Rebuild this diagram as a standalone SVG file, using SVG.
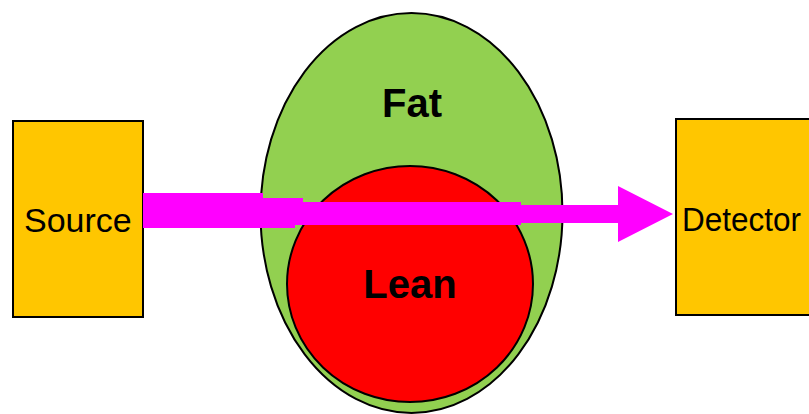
<svg xmlns="http://www.w3.org/2000/svg" width="809" height="414" viewBox="0 0 809 414">
<style>
.box{fill:#FFC600;stroke:#000;stroke-width:2}
.lbl{font-family:"Liberation Sans",Arial,sans-serif;font-size:34px;fill:#000}
.big{font-family:"Liberation Sans",Arial,sans-serif;font-size:40px;font-weight:bold;fill:#000;text-anchor:middle}
</style>
<rect width="809" height="414" fill="#fff"/>
<g id="fat">
<ellipse cx="411.5" cy="213" rx="151" ry="200" fill="#92D050" stroke="#000" stroke-width="2"/>
</g>
<g id="lean">
<ellipse cx="410" cy="284" rx="123" ry="118" fill="#FF0000" stroke="#000" stroke-width="2"/>
</g>
<g id="source">
<rect class="box" x="13" y="121" width="130" height="196"/>
<text class="lbl" x="24" y="232">Source</text>
</g>
<g id="detector">
<rect class="box" x="676" y="119" width="140" height="196"/>
<text class="lbl" x="682" y="231" textLength="119" lengthAdjust="spacingAndGlyphs">Detector</text>
</g>
<g id="connectors">
<path d="M143,193 H263 V198 H303 V202 H521 V205 H618 V186 L673,214 L618,242 V223 H521 V225 H295 V228 H143 Z" fill="#FF00FF"/>
</g>
<g id="labels">
<text class="big" x="412" y="117">Fat</text>
<text class="big" x="410" y="298">Lean</text>
</g>
</svg>
